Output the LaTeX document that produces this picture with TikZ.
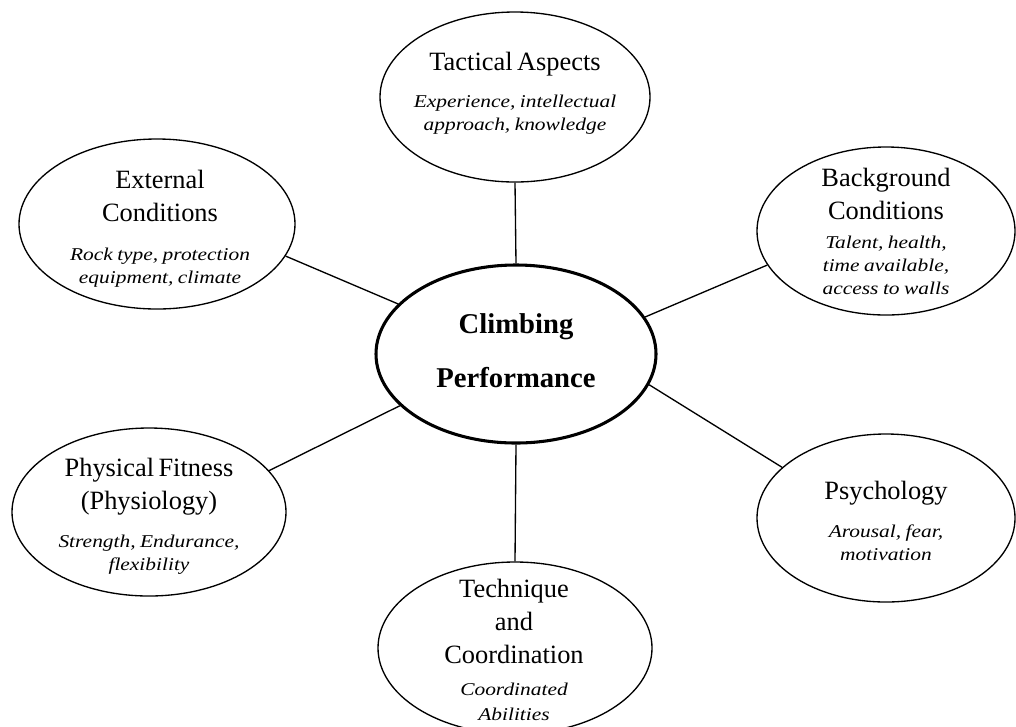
\documentclass[tikz,border=0pt]{standalone}
\usepackage{fontspec}
\setmainfont{Liberation Serif}
\newfontfamily\notefam{Liberation Serif}[FakeStretch=1.19]
\usetikzlibrary{shapes.geometric}

% type styles: factor names, notes under them, and the central label
\newcommand\headfont{\fontsize{19.8pt}{24.75pt}\selectfont}
\newcommand\notefont{\notefam\itshape\fontsize{13.5pt}{17.25pt}\selectfont}
\newcommand\corefont{\bfseries\fontsize{21.5pt}{40.5pt}\selectfont}

\begin{document}
\begin{tikzpicture}[x=0.75pt,y=-0.75pt,
  bubble/.style={ellipse, draw, line width=1pt, inner sep=0pt},
  core/.style={bubble, line width=2.3pt},
  caption/.style={text width=230pt, align=center, inner sep=0pt,
    execute at begin node={\parindent=0pt}},
  link/.style={line width=1pt}]

\useasboundingbox (0,0) rectangle (1016,726);

% ellipses
\node[core,   minimum width=210pt,   minimum height=133.5pt] (ctr)  at (516,354) {};
\node[bubble, minimum width=202.5pt, minimum height=127.5pt] (tact) at (515,97)  {};
\node[bubble, minimum width=207pt,   minimum height=127.5pt] (ext)  at (157,224) {};
\node[bubble, minimum width=193.5pt, minimum height=126pt]   (bg)   at (886,231) {};
\node[bubble, minimum width=205.5pt, minimum height=126pt]   (phys) at (149,512) {};
\node[bubble, minimum width=193.5pt, minimum height=126pt]   (psy)  at (886,518) {};
\node[bubble, minimum width=205.5pt, minimum height=129pt]   (tech) at (515,648) {};

% texts
\node[caption] (ctr-t) at (516,351) {\corefont Climbing\par Performance\par};
\node[caption] (tact-t) at (515,93) {\headfont Tactical Aspects\par\vskip10.5pt
  \notefont Experience, intellectual\par approach, knowledge\par};
\node[caption] (ext-t) at (160,229) {\headfont External\par Conditions\par\vskip12pt
  \notefont Rock type, protection\par equipment, climate\par};
\node[caption] (bg-t) at (886,231.5) {\headfont Background\par Conditions\par\vskip4.5pt
  \notefont Talent, health,\par time available,\par access to walls\par};
\node[caption] (phys-t) at (149,516) {\headfont Physical Fitness\par (Physiology)\par\vskip11pt
  \notefont Strength, Endurance,\par flexibility\par};
\node[caption] (psy-t) at (886,521) {\headfont Psychology\par\vskip11pt
  \notefont Arousal, fear,\par motivation\par};
\node[caption] (tech-t) at (514,650) {\headfont Technique\par and\par Coordination\par\vskip4.5pt
  \notefont\baselineskip=19pt Coordinated\par Abilities\par};

% connectors
\draw[link] (tact.south) -- (ctr.north);
\draw[link] (ctr.south) -- (tech.north);
\draw[link] (ext.-14) -- (ctr.157);
\draw[link] (bg.-164) -- (ctr.16);
\draw[link] (phys.19) -- (ctr.-156);
\draw[link] (psy.154) -- (ctr.-13.5);
\end{tikzpicture}
\end{document}
